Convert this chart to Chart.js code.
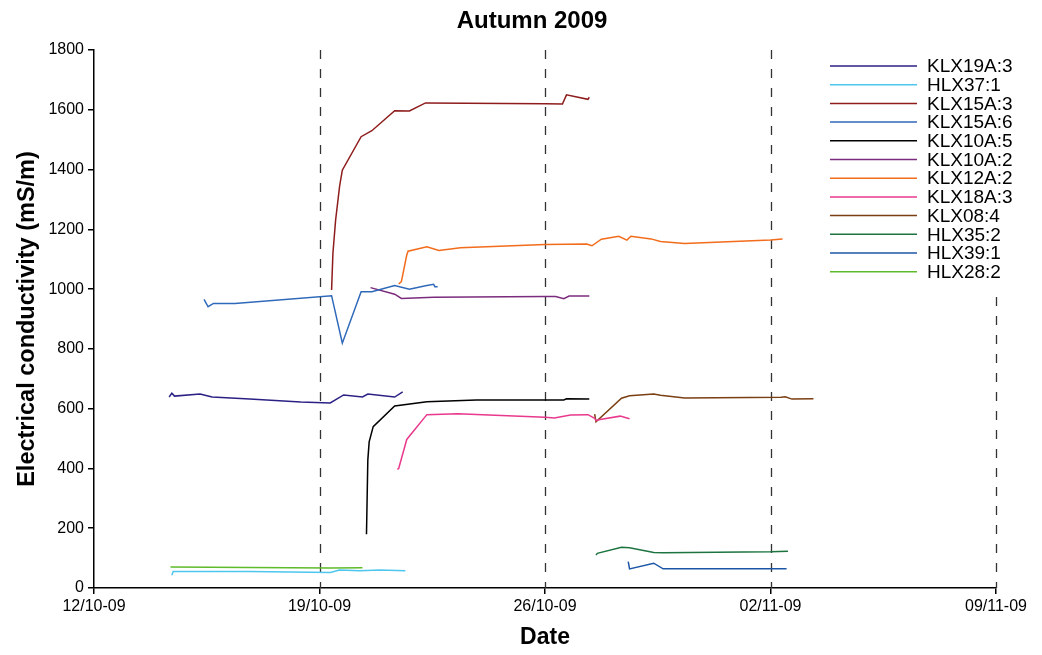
<!DOCTYPE html>
<html>
<head>
<meta charset="utf-8">
<title>Autumn 2009</title>
<script src="https://cdn.jsdelivr.net/npm/chart.js@4/dist/chart.umd.min.js"></script>
<style>
  html, body { margin: 0; padding: 0; background: #fff; }
  #wrap { width: 1042px; height: 655px; position: relative; }
</style>
</head>
<body>
<div id="wrap"><canvas id="c" width="1042" height="655"></canvas></div>
<script>
// Measurement series: [timestamp, electrical conductivity (mS/m)]
const klx19a3 = [['2009-10-14 08:00',639],['2009-10-14 10:00',652],['2009-10-14 12:00',642],['2009-10-15 07:00',649],['2009-10-15 16:00',639],['2009-10-16 20:00',632],['2009-10-18 10:00',622],['2009-10-19 08:00',619],['2009-10-19 18:00',646],['2009-10-20 08:00',639],['2009-10-20 12:00',649],['2009-10-21 08:00',639],['2009-10-21 14:00',656]];
const hlx371 = [['2009-10-14 10:00',43],['2009-10-14 11:00',55],['2009-10-16 20:00',55],['2009-10-19 08:00',52],['2009-10-19 15:00',60],['2009-10-20 06:00',58],['2009-10-20 21:00',60],['2009-10-21 16:00',58]];
const klx15a3 = [['2009-10-19 09:00',997],['2009-10-19 10:00',1120],['2009-10-19 12:00',1231],['2009-10-19 15:00',1345],['2009-10-19 17:00',1398],['2009-10-20 07:00',1510],['2009-10-20 15:00',1530],['2009-10-21 08:00',1597],['2009-10-21 19:00',1596],['2009-10-22 07:00',1623],['2009-10-26 00:00',1620],['2009-10-26 13:00',1619],['2009-10-26 16:00',1650],['2009-10-27 08:00',1635],['2009-10-27 09:00',1642]];
const klx15a6 = [['2009-10-15 10:00',966],['2009-10-15 13:00',941],['2009-10-15 17:00',952],['2009-10-16 09:00',952],['2009-10-19 09:00',978],['2009-10-19 17:00',819],['2009-10-20 07:00',991],['2009-10-20 15:00',991],['2009-10-21 08:00',1012],['2009-10-21 19:00',1000],['2009-10-22 07:00',1011],['2009-10-22 13:00',1016],['2009-10-22 14:00',1008],['2009-10-22 16:00',1008]];
const klx10a5 = [['2009-10-20 11:00',180],['2009-10-20 12:00',428],['2009-10-20 13:00',489],['2009-10-20 16:00',540],['2009-10-21 08:00',609],['2009-10-22 08:00',623],['2009-10-23 21:00',629],['2009-10-26 14:00',629],['2009-10-26 16:00',633],['2009-10-27 09:00',632]];
const klx10a2 = [['2009-10-20 14:00',1005],['2009-10-21 08:00',983],['2009-10-21 13:00',969],['2009-10-22 13:00',973],['2009-10-26 00:00',975],['2009-10-26 08:00',975],['2009-10-26 14:00',968],['2009-10-26 18:00',977],['2009-10-27 09:00',977]];
const klx12a2 = [['2009-10-21 11:00',1017],['2009-10-21 13:00',1025],['2009-10-21 17:00',1114],['2009-10-21 18:00',1127],['2009-10-22 08:00',1142],['2009-10-22 17:00',1129],['2009-10-23 09:00',1138],['2009-10-26 00:00',1149],['2009-10-27 07:00',1151],['2009-10-27 11:00',1145],['2009-10-27 18:00',1167],['2009-10-28 07:00',1177],['2009-10-28 13:00',1164],['2009-10-28 16:00',1177],['2009-10-29 07:00',1168],['2009-10-29 14:00',1159],['2009-10-30 08:00',1153],['2009-11-02 00:00',1164],['2009-11-02 09:00',1168]];
const klx18a3 = [['2009-10-21 10:00',397],['2009-10-21 11:00',400],['2009-10-21 17:00',497],['2009-10-22 08:00',580],['2009-10-23 07:00',583],['2009-10-26 00:00',571],['2009-10-26 07:00',569],['2009-10-26 19:00',579],['2009-10-27 08:00',580],['2009-10-27 13:00',568],['2009-10-27 14:00',560],['2009-10-27 17:00',564],['2009-10-28 08:00',575],['2009-10-28 15:00',566]];
const klx084 = [['2009-10-27 13:00',582],['2009-10-27 14:00',556],['2009-10-28 09:00',635],['2009-10-28 15:00',643],['2009-10-29 09:00',649],['2009-10-29 14:00',645],['2009-10-30 08:00',636],['2009-11-02 08:00',638],['2009-11-02 11:00',640],['2009-11-02 16:00',632],['2009-11-03 08:00',633]];
const hlx352 = [['2009-10-27 14:00',110],['2009-10-27 15:00',116],['2009-10-28 09:00',136],['2009-10-28 15:00',135],['2009-10-29 09:00',119],['2009-10-29 16:00',118],['2009-11-02 00:00',121],['2009-11-02 13:00',123]];
const hlx391 = [['2009-10-28 14:00',88],['2009-10-28 15:00',64],['2009-10-29 09:00',83],['2009-10-29 16:00',64],['2009-11-02 12:00',64]];
const hlx282 = [['2009-10-14 09:00',70],['2009-10-16 20:00',69],['2009-10-19 08:00',67],['2009-10-20 08:00',68]];

const seriesNames = ['KLX19A:3','HLX37:1','KLX15A:3','KLX15A:6','KLX10A:5','KLX10A:2','KLX12A:2','KLX18A:3','KLX08:4','HLX35:2','HLX39:1','HLX28:2'];
const seriesData = [klx19a3, hlx371, klx15a3, klx15a6, klx10a5, klx10a2, klx12a2, klx18a3, klx084, hlx352, hlx391, hlx282];
const seriesColors = ['#2B2185','#4EC6EE','#8E1C1C','#2F69B9','#000000','#7B2C7D','#F26C1C','#E8398C','#7A3F12','#1D7440','#1B56A6','#5EBB2B'];

const xTickLabels = ['12/10-09','19/10-09','26/10-09','02/11-09','09/11-09'];
const xStart = '2009-10-12 00:00';
const xEnd = '2009-11-09 00:00';
const markerDates = ['2009-10-19 00:00','2009-10-26 00:00','2009-11-02 00:00','2009-11-09 00:00'];

const DAY = 86400000;
function ts(s) {
  const m = s.match(/(\d+)-(\d+)-(\d+) (\d+):(\d+)/);
  return Date.UTC(+m[1], +m[2] - 1, +m[3], +m[4], +m[5]);
}

const FONT = "'Liberation Sans', Arial, sans-serif";

const datasets = seriesNames.map((name, i) => ({
  label: name,
  data: seriesData[i].map(p => ({ x: ts(p[0]), y: p[1] })),
  borderColor: seriesColors[i],
  backgroundColor: seriesColors[i],
  borderWidth: 1.5,
  pointRadius: 0,
  tension: 0,
  fill: false
}));

// Dashed week markers behind the series
const weekMarkers = {
  id: 'weekMarkers',
  beforeDatasetsDraw(chart) {
    const { ctx, chartArea, scales } = chart;
    ctx.save();
    ctx.strokeStyle = '#333';
    ctx.lineWidth = 1.3;
    ctx.setLineDash([9, 10]);
    markerDates.forEach(d => {
      const x = Math.round(scales.x.getPixelForValue(ts(d))) + 0.5;
      ctx.beginPath();
      ctx.moveTo(x, chartArea.top);
      ctx.lineTo(x, chartArea.bottom);
      ctx.stroke();
    });
    ctx.restore();
  }
};

// Title and boxed legend drawn on top of the plot
const decorations = {
  id: 'decorations',
  afterDraw(chart) {
    const { ctx } = chart;
    ctx.save();
    ctx.fillStyle = '#000';
    ctx.font = 'bold 24px ' + FONT;
    ctx.textAlign = 'center';
    ctx.textBaseline = 'middle';
    ctx.fillText('Autumn 2009', 532, 21);

    ctx.fillStyle = '#fff';
    ctx.fillRect(822, 50, 220, 240);
    ctx.font = '19px ' + FONT;
    ctx.textAlign = 'left';
    chart.data.datasets.forEach((ds, i) => {
      const y = 66 + i * 18.7;
      ctx.strokeStyle = ds.borderColor;
      ctx.lineWidth = 1.5;
      ctx.beginPath();
      ctx.moveTo(830, y);
      ctx.lineTo(917, y);
      ctx.stroke();
      ctx.fillStyle = '#000';
      ctx.fillText(ds.label, 927, y + 1);
    });
    ctx.restore();
  }
};

new Chart(document.getElementById('c'), {
  type: 'line',
  data: { datasets },
  options: {
    responsive: false,
    animation: false,
    layout: { padding: { top: 50, right: 46, left: 0, bottom: 0 } },
    plugins: {
      legend: { display: false },
      title: { display: false },
      tooltip: { enabled: false }
    },
    scales: {
      x: {
        type: 'linear',
        min: ts(xStart),
        max: ts(xEnd),
        afterBuildTicks(scale) {
          const t0 = ts(xStart);
          scale.ticks = xTickLabels.map((_, i) => ({ value: t0 + i * 7 * DAY }));
        },
        afterFit(scale) { scale.height = 67; },
        ticks: {
          color: '#000',
          font: { family: FONT, size: 16 },
          padding: 3,
          maxRotation: 0,
          autoSkip: false,
          callback: (v, i) => xTickLabels[i]
        },
        grid: { drawOnChartArea: false, drawTicks: true, tickLength: 6, color: '#000', lineWidth: 1.5 },
        border: { color: '#000', width: 1.5 },
        title: {
          display: true,
          text: 'Date',
          color: '#000',
          font: { family: FONT, size: 23, weight: 'bold' },
          padding: { top: 0, bottom: 4 }
        }
      },
      y: {
        min: 0,
        max: 1800,
        afterFit(scale) { scale.width = 94; },
        ticks: {
          stepSize: 200,
          color: '#000',
          font: { family: FONT, size: 16 },
          padding: 4,
          callback: v => String(v)
        },
        grid: { drawOnChartArea: false, drawTicks: true, tickLength: 6, color: '#000', lineWidth: 1.5 },
        border: { color: '#000', width: 1.5 },
        title: {
          display: true,
          text: 'Electrical conductivity (mS/m)',
          color: '#000',
          font: { family: FONT, size: 23.5, weight: 'bold' },
          padding: { top: 13, bottom: 0 }
        }
      }
    }
  },
  plugins: [weekMarkers, decorations]
});
</script>
</body>
</html>
